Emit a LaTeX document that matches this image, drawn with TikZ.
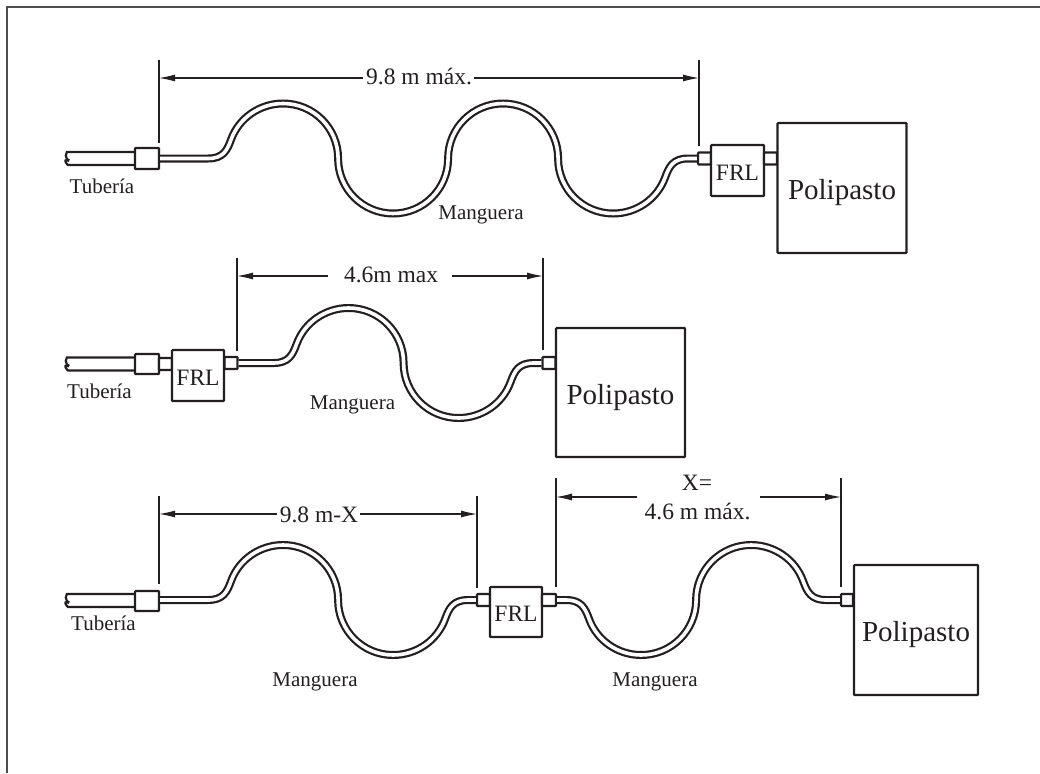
\documentclass[tikz,border=0pt]{standalone}
\usepackage{fontspec}
\setmainfont{Liberation Serif}
\usetikzlibrary{arrows.meta}
\definecolor{ink}{HTML}{231F20}
\newcommand{\fs}[1]{\fontsize{#1}{#1}\selectfont}
% hose pieces, radius 55
\def\hTopRight{.. controls +(30.4,0) and +(0,-30.4) .. ++(55,55)}
\def\hRightBottom{.. controls +(0,30.4) and +(-30.4,0) .. ++(55,55)}
\def\hBottomRight{.. controls +(30.4,0) and +(0,30.4) .. ++(55,-55)}
\def\hUpTop{.. controls +(0,-30.4) and +(-30.4,0) .. ++(55,-55)}
\def\hFlatTop{.. controls +(15,0) and +(-4,11) .. ++(23,-19) .. controls +(7.9,-21.7) and +(-23.1,0) .. ++(52,-36)}
\def\hBottomFlat{.. controls +(23.1,0) and +(-7.9,21.7) .. ++(52,-36) .. controls +(4,-11) and +(-15,0) .. ++(23,-19)}
\def\hFlatBottom{.. controls +(15,0) and +(-4,-11) .. ++(23,19) .. controls +(7.9,21.7) and +(-23.1,0) .. ++(52,36)}
\def\hTopFlat{.. controls +(23.1,0) and +(-7.9,-21.7) .. ++(52,36) .. controls +(4,11) and +(-15,0) .. ++(23,19)}
\tikzset{
  box/.style={draw=ink,line width=2.2pt,fill=white,rounded corners=0.8pt,inner sep=0pt,text=ink},
  frlbox/.style={box,minimum width=#1,minimum height=51pt,font=\fs{23.5},text height=19pt,text depth=0pt},
  hoistbox/.style={box,font=\fs{29},text height=23pt,text depth=0pt},
  coupler/.style={box,minimum width=24pt,minimum height=20pt},
  fitting/.style={box,minimum width=13pt,minimum height=12pt},
  hose/.style={draw=ink,line width=2.2pt,double=white,double distance=3.6pt},
  pipe/.style={draw=ink,line width=2.2pt},
  extline/.style={draw=ink,line width=1.1pt},
  dimline/.style={draw=ink,line width=1.1pt,-{Latex[length=16pt,width=7pt]}},
  lbl/.style={text=ink,inner sep=0pt,anchor=base,font=\fs{21}},
  dimlbl/.style={text=ink,inner sep=0pt,anchor=base,font=\fs{23.5}},
  framing/.style={draw=ink!80,line width=1.6pt}
}
\begin{document}
\begin{tikzpicture}[x=1pt,y=-1pt]
\useasboundingbox (0,0) rectangle (1040,773);
\coordinate (fa) at (1040,7); \coordinate (fb) at (7,7); \coordinate (fc) at (7,773);
\draw[framing] (fa) -- (fb) -- (fc);

% Row 1
\node[coupler,minimum height=21pt] (c1) at (147,158.5) {};
\node[fitting] (f1a) at (704.5,158.5) {};
\node[frlbox=53pt] (frl1) at (737.5,170.5) {FRL};
\node[fitting] (f1b) at (770.5,158.5) {};
\node[hoistbox,minimum width=129pt,minimum height=130pt] (h1) at (842,188) {Polipasto};
\draw[pipe] (c1.west) ++(0,-6.5) -- ++(-67,0) .. controls +(-2,2) and +(-1,-2) .. ++(0,7) .. controls +(2,-1) and +(2,2) .. ++(0,1) .. controls +(-3,0) and +(-2,-2) .. ++(1,5) -- ++(66,0);
\draw[hose] (c1.east) -- ++(48,0) \hFlatTop \hTopRight \hRightBottom \hBottomRight \hUpTop \hTopRight \hRightBottom \hBottomFlat -- (f1a.west);
\node[lbl] (t1) at (102,193) {Tubería};
\node[lbl] (m1) at (481,219) {Manguera};
\node[dimlbl] (d1) at (419,85) {9.8 m máx.};
\coordinate (e1at) at (159,60); \coordinate (e1ab) at (159,143);
\coordinate (e1bt) at (699,60); \coordinate (e1bb) at (699,146);
\coordinate (a1l) at (363,78); \coordinate (a1le) at (159,78);
\coordinate (a1r) at (474,78); \coordinate (a1re) at (699,78);
\draw[extline] (e1at) -- (e1ab);
\draw[extline] (e1bt) -- (e1bb);
\draw[dimline] (a1l) -- (a1le);
\draw[dimline] (a1r) -- (a1re);

% Row 2
\node[coupler] (c2) at (147,364) {};
\node[fitting] (f2a) at (165.5,364) {};
\node[fitting] (f2b) at (231,363) {};
\node[frlbox=52pt] (frl2) at (198,375.5) {FRL};
\node[fitting] (f2c) at (549,363) {};
\node[hoistbox,minimum width=129pt,minimum height=129pt] (h2) at (620.5,392.5) {Polipasto};
\draw[pipe] (c2.west) ++(0,-6.5) -- ++(-67,0) .. controls +(-2,2) and +(-1,-2) .. ++(0,7) .. controls +(2,-1) and +(2,2) .. ++(0,1) .. controls +(-3,0) and +(-2,-2) .. ++(1,5) -- ++(66,0);
\draw[hose] (f2b.east) -- ++(35,0) \hFlatTop \hTopRight \hRightBottom \hBottomFlat -- (f2c.west);
\node[lbl] (t2) at (99.5,398) {Tubería};
\node[lbl] (m2) at (352.5,409) {Manguera};
\node[dimlbl] (d2) at (391,282) {4.6m max};
\coordinate (e2at) at (237,258); \coordinate (e2ab) at (237,351);
\coordinate (e2bt) at (543,258); \coordinate (e2bb) at (543,350);
\coordinate (a2l) at (328,276); \coordinate (a2le) at (237,276);
\coordinate (a2r) at (452,276); \coordinate (a2re) at (543,276);
\draw[extline] (e2at) -- (e2ab);
\draw[extline] (e2bt) -- (e2bb);
\draw[dimline] (a2l) -- (a2le);
\draw[dimline] (a2r) -- (a2re);

% Row 3
\node[coupler] (c3) at (147,601) {};
\node[fitting] (f3a) at (483.5,600) {};
\node[frlbox=52pt,minimum height=50pt] (frl3) at (516,612) {FRL};
\node[fitting,minimum width=14pt] (f3b) at (549,600) {};
\node[fitting,minimum width=12pt] (f3c) at (847,600) {};
\node[hoistbox,minimum width=124pt,minimum height=130pt] (h3) at (916,630) {Polipasto};
\draw[pipe] (c3.west) ++(0,-7) -- ++(-67,0) .. controls +(-2,2) and +(-1,-2) .. ++(0,7) .. controls +(2,-1) and +(2,2) .. ++(0,1) .. controls +(-3,0) and +(-2,-2) .. ++(1,5) -- ++(66,0);
\draw[hose] (c3.east) ++(0,-1) -- ++(48,0) \hFlatTop \hTopRight \hRightBottom \hBottomFlat -- (f3a.west);
\draw[hose] (f3b.east) -- ++(9,0) \hFlatBottom \hBottomRight \hUpTop \hTopFlat -- (f3c.west);
\node[lbl] (t3) at (103.5,630) {Tubería};
\node[lbl] (m3) at (315,686) {Manguera};
\node[lbl] (m3b) at (655,686) {Manguera};
\node[dimlbl] (d3) at (319,522) {9.8 m-X};
\node[dimlbl] (d3x) at (697,490) {X=};
\node[dimlbl] (d3m) at (697.5,519) {4.6 m máx.};
\coordinate (e3at) at (159,496); \coordinate (e3ab) at (159,584);
\coordinate (e3bt) at (477,496); \coordinate (e3bb) at (477,588);
\coordinate (e3ct) at (556,478); \coordinate (e3cb) at (556,587);
\coordinate (e3dt) at (841,478); \coordinate (e3db) at (841,587);
\coordinate (a3l) at (277,514); \coordinate (a3le) at (159,514);
\coordinate (a3r) at (360,514); \coordinate (a3re) at (477,514);
\coordinate (a3m) at (637,497); \coordinate (a3me) at (556,497);
\coordinate (a3n) at (760,497); \coordinate (a3ne) at (841,497);
\draw[extline] (e3at) -- (e3ab);
\draw[extline] (e3bt) -- (e3bb);
\draw[extline] (e3ct) -- (e3cb);
\draw[extline] (e3dt) -- (e3db);
\draw[dimline] (a3l) -- (a3le);
\draw[dimline] (a3r) -- (a3re);
\draw[dimline] (a3m) -- (a3me);
\draw[dimline] (a3n) -- (a3ne);
\end{tikzpicture}
\end{document}
